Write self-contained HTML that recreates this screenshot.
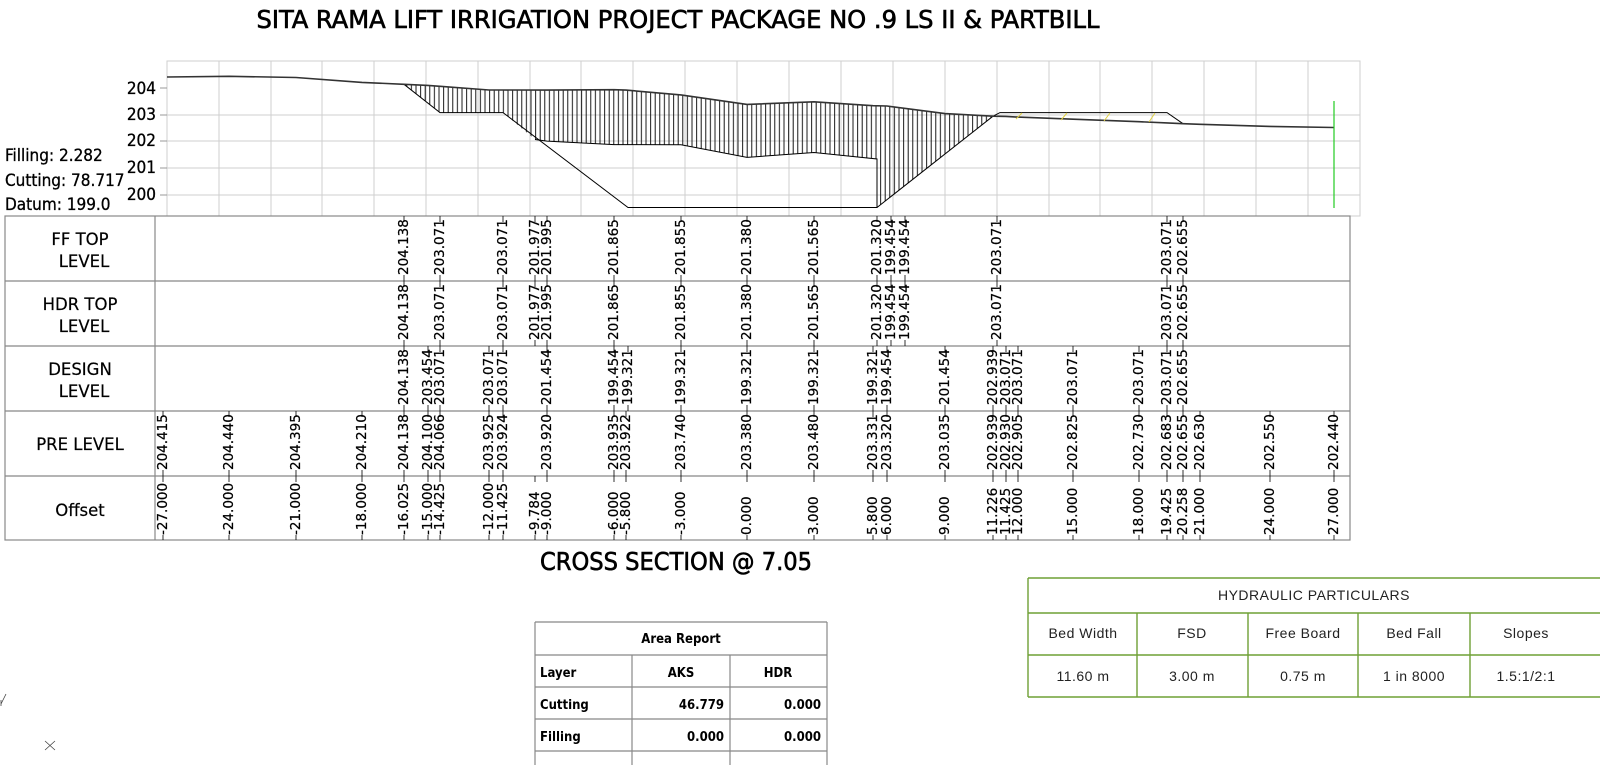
<!DOCTYPE html>
<html><head><meta charset="utf-8"><style>
html,body{margin:0;padding:0;background:#fff;width:1600px;height:765px;overflow:hidden}
svg{display:block}
.v{font-family:"DejaVu Sans","Liberation Sans",sans-serif;font-size:13.5px;fill:#000;stroke:#000;stroke-width:0.25}
.lab{font-family:"DejaVu Sans","Liberation Sans",sans-serif;font-size:16.5px;fill:#000;text-anchor:middle;stroke:#000;stroke-width:0.2}
.hy{font-family:"Liberation Sans",sans-serif;font-size:14px;fill:#222;text-anchor:middle;letter-spacing:0.5px}
.ar{font-family:"DejaVu Sans Condensed","DejaVu Sans",sans-serif;font-size:13px;font-weight:bold;fill:#000}
</style></head><body>
<svg width="1600" height="765" viewBox="0 0 1600 765" xmlns="http://www.w3.org/2000/svg">
<defs>
<pattern id="hat" width="4.6" height="10" patternUnits="userSpaceOnUse"><line x1="2" y1="0" x2="2" y2="10" stroke="#000" stroke-width="0.9"/></pattern>
</defs>
<text x="678" y="28" text-anchor="middle" font-family="DejaVu Sans Condensed,DejaVu Sans,sans-serif" font-size="25" stroke="#000" stroke-width="0.6" textLength="843" lengthAdjust="spacingAndGlyphs">SITA RAMA LIFT IRRIGATION PROJECT PACKAGE NO .9 LS II &amp; PARTBILL</text>

<!-- plot frame and grid -->
<g stroke="#cfcfcf" stroke-width="1" fill="none">
<rect x="167" y="61" width="1193" height="155"/>
<path d="M219 61V216M271 61V216M322 61V216M374 61V216M426 61V216M478 61V216M530 61V216M581 61V216M633 61V216M685 61V216M737 61V216M789 61V216M841 61V216M893 61V216M945 61V216M997 61V216M1049 61V216M1100 61V216M1152 61V216M1204 61V216M1256 61V216M1308 61V216"/>
<path d="M167 115H1360M167 141H1360M167 168H1360M167 195H1360"/>
<path d="M160 88H167M160 115H167M160 141H167M160 168H167M160 195H167" stroke="#999"/>
</g>
<g font-family="DejaVu Sans Condensed,DejaVu Sans,sans-serif" font-size="17" text-anchor="end" stroke="#000" stroke-width="0.3">
<text x="156" y="94">204</text><text x="156" y="120">203</text><text x="156" y="146">202</text><text x="156" y="173">201</text><text x="156" y="200">200</text>
</g>
<g font-family="DejaVu Sans Condensed,DejaVu Sans,sans-serif" font-size="17" stroke="#000" stroke-width="0.3">
<text x="5" y="161">Filling: 2.282</text>
<text x="5" y="186">Cutting: 78.717</text>
<text x="5" y="210">Datum: 199.0</text>
</g>

<!-- hatch -->
<polygon fill="url(#hat)" stroke="none" points="404,84.3 428,85.4 440,86.3 489,90 503,90 547,90.1 614,89.7 626,90.1 681,94.9 747,104.4 814,101.8 873,105.7 887,106 945,113.6 993,116.2 877,207.5 877,159 814,152.5 747,157.4 681,144.8 614,144.6 547,141.1 535,139.5 503,112.6 440,112.6"/>
<g fill="none" stroke="#000" stroke-width="1">
<polyline points="877,207.5 877,159 814,152.5 747,157.4 681,144.8 614,144.6 547,141.1 535,139.5"/>
<polyline points="404,84.3 440,112.6 503,112.6 628,207.5 877,207.5 993,116.2"/>
<polyline points="993,116.2 1000,112.6 1167,112.6 1183,123.7"/>
</g>
<polyline fill="none" stroke="#333" stroke-width="1.6" points="167,77 229,76.3 296,77.5 362,82.4 404,84.3 428,85.4 440,86.3 489,90 503,90 547,90.1 614,89.7 626,90.1 681,94.9 747,104.4 814,101.8 873,105.7 887,106 945,113.6 993,116.2 1006,116.4 1018,117.1 1073,119.2 1139,121.7 1167,122.9 1183,123.7 1200,124.3 1270,126.4 1334,127.5"/>
<g stroke="#e0d040" stroke-width="1"><path d="M1016 119L1022 113M1061 120L1067 113M1104 121L1110 113M1149 122L1155 113"/></g>
<line x1="1334" y1="101" x2="1334" y2="208" stroke="#22cc22" stroke-width="1.2"/>

<!-- table -->
<g stroke="#888" stroke-width="1.2" fill="none">
<rect x="5" y="216" width="1345" height="324"/>
<path d="M5 281H1350M5 346H1350M5 411H1350M5 476H1350M155 216V540"/>
</g>
<text class="lab" x="80" y="245">FF  TOP</text><text class="lab" x="84" y="267">LEVEL</text>
<text class="lab" x="80" y="310">HDR  TOP</text><text class="lab" x="84" y="332">LEVEL</text>
<text class="lab" x="80" y="375">DESIGN</text><text class="lab" x="84" y="397">LEVEL</text>
<text class="lab" x="80" y="450">PRE LEVEL</text>
<text class="lab" x="80" y="516">Offset</text>

<!-- ticks -->
<g stroke="#000" stroke-width="0.8">
<path d="M404 216v6M404 275v6M440 216v6M440 275v6M503 216v6M503 275v6M535 216v6M535 275v6M547 216v6M547 275v6M614 216v6M614 275v6M681 216v6M681 275v6M747 216v6M747 275v6M814 216v6M814 275v6M877 216v6M877 275v6M891 216v6M891 275v6M905 216v6M905 275v6M997 216v6M997 275v6M1167 216v6M1167 275v6M1183 216v6M1183 275v6"/>
<path d="M404 281v6M404 340v6M440 281v6M440 340v6M503 281v6M503 340v6M535 281v6M535 340v6M547 281v6M547 340v6M614 281v6M614 340v6M681 281v6M681 340v6M747 281v6M747 340v6M814 281v6M814 340v6M877 281v6M877 340v6M891 281v6M891 340v6M905 281v6M905 340v6M997 281v6M997 340v6M1167 281v6M1167 340v6M1183 281v6M1183 340v6"/>
<path d="M404 346v6M404 405v6M428 346v6M428 405v6M440 346v6M440 405v6M489 346v6M489 405v6M503 346v6M503 405v6M547 346v6M547 405v6M614 346v6M614 405v6M628 346v6M628 405v6M681 346v6M681 405v6M747 346v6M747 405v6M814 346v6M814 405v6M873 346v6M873 405v6M887 346v6M887 405v6M945 346v6M945 405v6M993 346v6M993 405v6M1006 346v6M1006 405v6M1018 346v6M1018 405v6M1073 346v6M1073 405v6M1139 346v6M1139 405v6M1167 346v6M1167 405v6M1183 346v6M1183 405v6"/>
<path d="M163 411v6M163 470v6M229 411v6M229 470v6M296 411v6M296 470v6M362 411v6M362 470v6M404 411v6M404 470v6M428 411v6M428 470v6M440 411v6M440 470v6M489 411v6M489 470v6M503 411v6M503 470v6M547 411v6M547 470v6M614 411v6M614 470v6M626 411v6M626 470v6M681 411v6M681 470v6M747 411v6M747 470v6M814 411v6M814 470v6M873 411v6M873 470v6M887 411v6M887 470v6M945 411v6M945 470v6M993 411v6M993 470v6M1006 411v6M1006 470v6M1018 411v6M1018 470v6M1073 411v6M1073 470v6M1139 411v6M1139 470v6M1167 411v6M1167 470v6M1183 411v6M1183 470v6M1200 411v6M1200 470v6M1270 411v6M1270 470v6M1334 411v6M1334 470v6"/>
<path d="M163 476v6M163 535v5M229 476v6M229 535v5M296 476v6M296 535v5M362 476v6M362 535v5M404 476v6M404 535v5M428 476v6M428 535v5M440 476v6M440 535v5M489 476v6M489 535v5M503 476v6M503 535v5M535 476v6M535 535v5M547 476v6M547 535v5M614 476v6M614 535v5M626 476v6M626 535v5M681 476v6M681 535v5M747 476v6M747 535v5M814 476v6M814 535v5M873 476v6M873 535v5M887 476v6M887 535v5M945 476v6M945 535v5M993 476v6M993 535v5M1006 476v6M1006 535v5M1018 476v6M1018 535v5M1073 476v6M1073 535v5M1139 476v6M1139 535v5M1167 476v6M1167 535v5M1183 476v6M1183 535v5M1200 476v6M1200 535v5M1270 476v6M1270 535v5M1334 476v6M1334 535v5"/>
</g>

<g class="v" dominant-baseline="central">
<text transform="translate(404,275) rotate(-90)">204.138</text>
<text transform="translate(440,275) rotate(-90)">203.071</text>
<text transform="translate(503,275) rotate(-90)">203.071</text>
<text transform="translate(535,275) rotate(-90)">201.977</text>
<text transform="translate(547,275) rotate(-90)">201.995</text>
<text transform="translate(614,275) rotate(-90)">201.865</text>
<text transform="translate(681,275) rotate(-90)">201.855</text>
<text transform="translate(747,275) rotate(-90)">201.380</text>
<text transform="translate(814,275) rotate(-90)">201.565</text>
<text transform="translate(877,275) rotate(-90)">201.320</text>
<text transform="translate(891,275) rotate(-90)">199.454</text>
<text transform="translate(905,275) rotate(-90)">199.454</text>
<text transform="translate(997,275) rotate(-90)">203.071</text>
<text transform="translate(1167,275) rotate(-90)">203.071</text>
<text transform="translate(1183,275) rotate(-90)">202.655</text>
<text transform="translate(404,340) rotate(-90)">204.138</text>
<text transform="translate(440,340) rotate(-90)">203.071</text>
<text transform="translate(503,340) rotate(-90)">203.071</text>
<text transform="translate(535,340) rotate(-90)">201.977</text>
<text transform="translate(547,340) rotate(-90)">201.995</text>
<text transform="translate(614,340) rotate(-90)">201.865</text>
<text transform="translate(681,340) rotate(-90)">201.855</text>
<text transform="translate(747,340) rotate(-90)">201.380</text>
<text transform="translate(814,340) rotate(-90)">201.565</text>
<text transform="translate(877,340) rotate(-90)">201.320</text>
<text transform="translate(891,340) rotate(-90)">199.454</text>
<text transform="translate(905,340) rotate(-90)">199.454</text>
<text transform="translate(997,340) rotate(-90)">203.071</text>
<text transform="translate(1167,340) rotate(-90)">203.071</text>
<text transform="translate(1183,340) rotate(-90)">202.655</text>
<text transform="translate(404,405) rotate(-90)">204.138</text>
<text transform="translate(428,405) rotate(-90)">203.454</text>
<text transform="translate(440,405) rotate(-90)">203.071</text>
<text transform="translate(489,405) rotate(-90)">203.071</text>
<text transform="translate(503,405) rotate(-90)">203.071</text>
<text transform="translate(547,405) rotate(-90)">201.454</text>
<text transform="translate(614,405) rotate(-90)">199.454</text>
<text transform="translate(628,405) rotate(-90)">199.321</text>
<text transform="translate(681,405) rotate(-90)">199.321</text>
<text transform="translate(747,405) rotate(-90)">199.321</text>
<text transform="translate(814,405) rotate(-90)">199.321</text>
<text transform="translate(873,405) rotate(-90)">199.321</text>
<text transform="translate(887,405) rotate(-90)">199.454</text>
<text transform="translate(945,405) rotate(-90)">201.454</text>
<text transform="translate(993,405) rotate(-90)">202.939</text>
<text transform="translate(1006,405) rotate(-90)">203.071</text>
<text transform="translate(1018,405) rotate(-90)">203.071</text>
<text transform="translate(1073,405) rotate(-90)">203.071</text>
<text transform="translate(1139,405) rotate(-90)">203.071</text>
<text transform="translate(1167,405) rotate(-90)">203.071</text>
<text transform="translate(1183,405) rotate(-90)">202.655</text>
<text transform="translate(163,470) rotate(-90)">204.415</text>
<text transform="translate(229,470) rotate(-90)">204.440</text>
<text transform="translate(296,470) rotate(-90)">204.395</text>
<text transform="translate(362,470) rotate(-90)">204.210</text>
<text transform="translate(404,470) rotate(-90)">204.138</text>
<text transform="translate(428,470) rotate(-90)">204.100</text>
<text transform="translate(440,470) rotate(-90)">204.066</text>
<text transform="translate(489,470) rotate(-90)">203.925</text>
<text transform="translate(503,470) rotate(-90)">203.924</text>
<text transform="translate(547,470) rotate(-90)">203.920</text>
<text transform="translate(614,470) rotate(-90)">203.935</text>
<text transform="translate(626,470) rotate(-90)">203.922</text>
<text transform="translate(681,470) rotate(-90)">203.740</text>
<text transform="translate(747,470) rotate(-90)">203.380</text>
<text transform="translate(814,470) rotate(-90)">203.480</text>
<text transform="translate(873,470) rotate(-90)">203.331</text>
<text transform="translate(887,470) rotate(-90)">203.320</text>
<text transform="translate(945,470) rotate(-90)">203.035</text>
<text transform="translate(993,470) rotate(-90)">202.939</text>
<text transform="translate(1006,470) rotate(-90)">202.930</text>
<text transform="translate(1018,470) rotate(-90)">202.905</text>
<text transform="translate(1073,470) rotate(-90)">202.825</text>
<text transform="translate(1139,470) rotate(-90)">202.730</text>
<text transform="translate(1167,470) rotate(-90)">202.683</text>
<text transform="translate(1183,470) rotate(-90)">202.655</text>
<text transform="translate(1200,470) rotate(-90)">202.630</text>
<text transform="translate(1270,470) rotate(-90)">202.550</text>
<text transform="translate(1334,470) rotate(-90)">202.440</text>
<text transform="translate(163,535) rotate(-90)">-27.000</text>
<text transform="translate(229,535) rotate(-90)">-24.000</text>
<text transform="translate(296,535) rotate(-90)">-21.000</text>
<text transform="translate(362,535) rotate(-90)">-18.000</text>
<text transform="translate(404,535) rotate(-90)">-16.025</text>
<text transform="translate(428,535) rotate(-90)">-15.000</text>
<text transform="translate(440,535) rotate(-90)">-14.425</text>
<text transform="translate(489,535) rotate(-90)">-12.000</text>
<text transform="translate(503,535) rotate(-90)">-11.425</text>
<text transform="translate(535,535) rotate(-90)">-9.784</text>
<text transform="translate(547,535) rotate(-90)">-9.000</text>
<text transform="translate(614,535) rotate(-90)">-6.000</text>
<text transform="translate(626,535) rotate(-90)">-5.800</text>
<text transform="translate(681,535) rotate(-90)">-3.000</text>
<text transform="translate(747,535) rotate(-90)">0.000</text>
<text transform="translate(814,535) rotate(-90)">3.000</text>
<text transform="translate(873,535) rotate(-90)">5.800</text>
<text transform="translate(887,535) rotate(-90)">6.000</text>
<text transform="translate(945,535) rotate(-90)">9.000</text>
<text transform="translate(993,535) rotate(-90)">11.226</text>
<text transform="translate(1006,535) rotate(-90)">11.425</text>
<text transform="translate(1018,535) rotate(-90)">12.000</text>
<text transform="translate(1073,535) rotate(-90)">15.000</text>
<text transform="translate(1139,535) rotate(-90)">18.000</text>
<text transform="translate(1167,535) rotate(-90)">19.425</text>
<text transform="translate(1183,535) rotate(-90)">20.258</text>
<text transform="translate(1200,535) rotate(-90)">21.000</text>
<text transform="translate(1270,535) rotate(-90)">24.000</text>
<text transform="translate(1334,535) rotate(-90)">27.000</text>
</g>

<text x="676" y="570" text-anchor="middle" font-family="DejaVu Sans Condensed,DejaVu Sans,sans-serif" font-size="25" stroke="#000" stroke-width="0.6" textLength="272" lengthAdjust="spacingAndGlyphs">CROSS SECTION @ 7.05</text>

<!-- hydraulic -->
<g stroke="#6fa035" stroke-width="1.4" fill="none">
<path d="M1028 578H1600M1028 613H1600M1028 655H1600M1028 697H1600M1028 578V697M1137 613V697M1248 613V697M1358 613V697M1470 613V697"/>
</g>
<text class="hy" x="1314" y="600">HYDRAULIC  PARTICULARS</text>
<text class="hy" x="1083" y="638">Bed  Width</text>
<text class="hy" x="1192" y="638">FSD</text>
<text class="hy" x="1303" y="638">Free  Board</text>
<text class="hy" x="1414" y="638">Bed  Fall</text>
<text class="hy" x="1526" y="638">Slopes</text>
<text class="hy" x="1083" y="681">11.60  m</text>
<text class="hy" x="1192" y="681">3.00  m</text>
<text class="hy" x="1303" y="681">0.75  m</text>
<text class="hy" x="1414" y="681">1  in  8000</text>
<text class="hy" x="1526" y="681">1.5:1/2:1</text>

<!-- area report -->
<g stroke="#888" stroke-width="1.2" fill="none">
<path d="M535 622H827M535 655H827M535 687H827M535 719H827M535 751H827M535 622V765M827 622V765M632 655V765M730 655V765"/>
</g>
<text class="ar" x="681" y="643" text-anchor="middle">Area Report</text>
<text class="ar" x="540" y="677">Layer</text>
<text class="ar" x="681" y="677" text-anchor="middle">AKS</text>
<text class="ar" x="778" y="677" text-anchor="middle">HDR</text>
<text class="ar" x="540" y="709">Cutting</text>
<text class="ar" x="724" y="709" text-anchor="end">46.779</text>
<text class="ar" x="821" y="709" text-anchor="end">0.000</text>
<text class="ar" x="540" y="741">Filling</text>
<text class="ar" x="724" y="741" text-anchor="end">0.000</text>
<text class="ar" x="821" y="741" text-anchor="end">0.000</text>

<g stroke="#444" stroke-width="0.8"><path d="M1 704L6 694M1 700V706M45 741L55 750M55 741L45 750"/></g>
</svg>
</body></html>
